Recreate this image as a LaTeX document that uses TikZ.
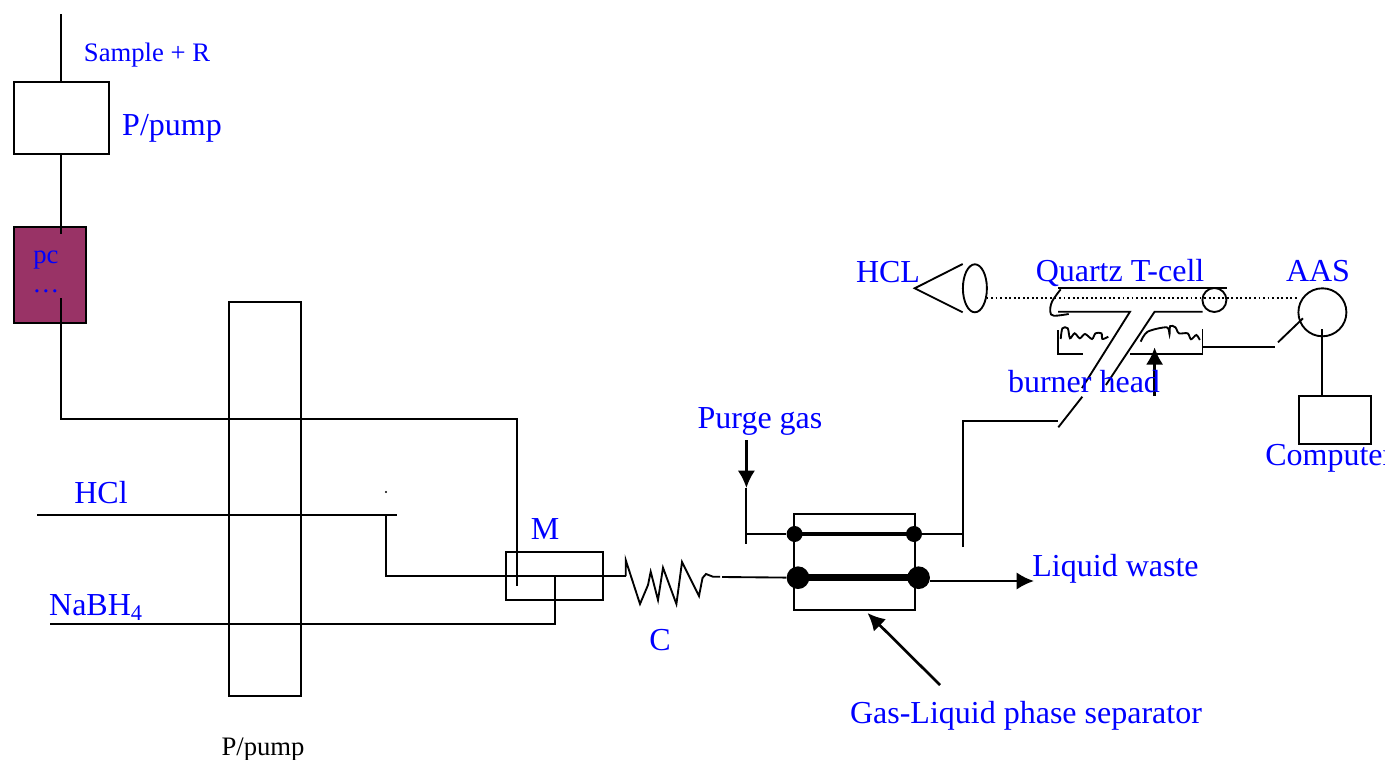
\documentclass[tikz,border=0pt]{standalone}
\usepackage{fontspec}
\setmainfont{Liberation Serif}
\usetikzlibrary{arrows.meta,calc,shapes.geometric}
\definecolor{pcfill}{HTML}{993366}
\tikzset{
    wire/.style={line width=1.4pt},
    heavy/.style={line width=2.8pt},
    heavier/.style={line width=5.2pt},
    pointer/.style={line width=2pt,-{Latex[length=13pt,width=13pt]}},
    unit/.style={draw,line width=1.4pt,inner sep=0pt},
    dot/.style={circle,fill=black,inner sep=0pt},
    lab/.style={text=blue,inner sep=0pt,font=\fontsize{24}{28}\selectfont},
    smalllab/.style={text=blue,inner sep=0pt,font=\fontsize{20}{24}\selectfont},
}
\begin{document}
\begin{tikzpicture}[x=0.75pt,y=-0.75pt]
\useasboundingbox (0,0) rectangle (1385,760);

% units
\node[unit,minimum width=71.25pt,minimum height=54pt] (pumpa) at (61.5,118) {};
\node[unit,fill=pcfill,minimum width=54pt,minimum height=72pt] (pc) at (50,275) {};
\node[unit,minimum width=54pt,minimum height=295.5pt] (pumpb) at (265,499) {};
\node[unit,minimum width=72.75pt,minimum height=36pt] (mixer) at (554.5,576) {};
\node[unit,minimum width=90.75pt,minimum height=72pt] (sep) at (854.5,562) {};
\node[unit,minimum width=54pt,minimum height=36pt] (computer) at (1334.8,420) {};
\node[draw,circle,line width=1.4pt,inner sep=0pt,minimum size=36pt] (aas) at (1322.4,312.3) {};
\node[draw,ellipse,line width=1.4pt,inner sep=0pt,minimum width=18pt,minimum height=36pt] (lamp) at (974.9,288.3) {};
\node[draw,circle,line width=1.4pt,inner sep=0pt,minimum size=18pt] (cellend) at (1214.4,300) {};

% sample line
\coordinate (sampletop) at (61,14);
\coordinate (pcin) at (61,234);
\coordinate (pcout) at (61,298);
\coordinate (bendA) at (61,419);
\coordinate (bendB) at (517,419);
\coordinate (mixA) at (517,586);
\draw[wire] (sampletop) -- (sampletop |- pumpa.north);
\draw[wire] (pcin |- pumpa.south) -- (pcin);
\draw[wire] (pcout) -- (bendA) -- (bendB) -- (mixA);

% reagent lines
\coordinate (hclA) at (37,515);
\coordinate (hclB) at (397,515);
\coordinate (hclC) at (386,515);
\coordinate (hclD) at (386,576);
\coordinate (coilA) at (625.7,576);
\coordinate (nabA) at (50,624);
\coordinate (nabB) at (555,624);
\coordinate (nabC) at (555,576);
\draw[wire] (hclA) -- (hclB);
\draw[wire] (hclC) -- (hclD) -- (coilA);
\draw[wire] (nabA) -- (nabB) -- (nabC);
\node[dot,minimum size=1.6pt] (speck) at (386,492) {};

% coil
\coordinate (coilB) at (720,576.7);
\draw[wire] (coilA) -- (625.7,560) -- (640,604) -- (648,585) -- (650.7,571.7) -- (658,600)
    -- (663,567.7) -- (676.4,604) -- (682,562) -- (699,596) -- (702.5,578) -- (706,574)
    -- (713,576.7) -- (coilB);

% separator
\node[dot,minimum size=12pt] (gasa) at (794.6,534) {};
\node[dot,minimum size=12pt] (gasb) at (914,534) {};
\node[dot,minimum size=17pt] (liqa) at (798,577.7) {};
\node[dot,minimum size=17pt] (liqb) at (918.6,577.7) {};
\coordinate (coilC) at (722,577);
\coordinate (gasL) at (746.4,534);
\coordinate (gasR) at (962.8,534);
\coordinate (gasLb) at (746.4,544);
\coordinate (gasRb) at (962.8,547);
\coordinate (gasRt) at (962.8,421);
\coordinate (purgetop) at (746.4,440);
\coordinate (purgetip) at (746.4,488);
\coordinate (stemfoot) at (1058.3,427.3);
\coordinate (stemknee) at (1058.3,421);
\coordinate (wastetip) at (1034,581);
\coordinate (sepfrom) at (940,685);
\coordinate (septip) at (867.5,613);
\draw[wire] (coilC) -- (liqa);
\draw[heavy] (gasa.center) -- (gasb.center);
\draw[heavier] (liqa.center) -- (liqb.center);
\draw[wire] (gasL) -- (gasa);
\draw[wire] (gasb) -- (gasR);
\draw[wire] (purgetip) -- (gasLb);
\draw[wire] (gasRb) -- (gasRt) -- (stemknee);
\draw[pointer] (purgetop) -- (purgetip);
\draw[pointer] (liqb.east |- wastetip) -- (wastetip);
\draw[pointer] (sepfrom) -- (septip);

% lamp
\coordinate (lampa) at (962.7,264);
\coordinate (lampb) at (914.7,288.3);
\coordinate (lampc) at (962.7,312.3);
\coordinate (beamA) at (986.5,298.3);
\coordinate (beamB) at (1298.8,298.3);
\draw[wire] (lampa) -- (lampb) -- (lampc);
\draw[line width=1.4pt,dotted] (beamA) -- (beamB);

% T cell
\coordinate (celltopA) at (1058,288.3);
\coordinate (celltopB) at (1226.9,288.3);
\coordinate (cellloA) at (1058,311.7);
\coordinate (cellloB) at (1130,311.7);
\coordinate (cellloC) at (1154.6,311.7);
\coordinate (cellloD) at (1202.5,311.7);
\coordinate (stemA) at (1082,388);
\coordinate (stemB) at (1082.3,396.7);
\coordinate (stemC) at (1105.9,385);
\draw[wire] (celltopA) -- (celltopB);
\draw[wire] (cellloA) -- (cellloB) -- (stemA);
\draw[wire] (stemB) -- (stemfoot);
\draw[wire] (cellloD) -- (cellloC) -- (stemC);
\draw[wire] plot[smooth,tension=.6] coordinates {(1060.7,289.3) (1052,301.7) (1050.3,311.7) (1053.8,315.7) (1068.7,314)};

% burner
\coordinate (burnA) at (1058.3,330);
\coordinate (burnB) at (1058.3,354);
\coordinate (burnC) at (1082.6,354);
\coordinate (burnD) at (1130.2,354);
\coordinate (burnE) at (1202.5,354);
\coordinate (burnF) at (1202.5,329.3);
\coordinate (burnG) at (1202.5,346.7);
\coordinate (burnH) at (1274.5,346.7);
\coordinate (aasA) at (1278,342.3);
\coordinate (aasB) at (1303,318.3);
\coordinate (airfrom) at (1154.6,396);
\coordinate (airtip) at (1154.6,347.3);
\draw[wire] (burnA) -- (burnB) -- (burnC);
\draw[wire] (burnD) -- (burnE) -- (burnF);
\draw[wire] (burnG) -- (burnH);
\draw[wire] (aasA) -- (aasB);
\draw[wire] plot[smooth,tension=.5] coordinates {(1060.7,339) (1062.4,328.3) (1067.7,328.3) (1070,338.3) (1074.6,333.3) (1079.8,338.3) (1085,334) (1092,339) (1095.5,333.3) (1101.4,333.3) (1102.4,339) (1108.3,336.7)};
\draw[wire] plot[smooth,tension=.5] coordinates {(1140.7,341.7) (1147.6,331.7) (1166.7,327.3) (1169.5,334.3) (1170.2,326) (1175.4,327.3) (1178.9,333.3) (1187.6,333.3) (1191,339.3) (1196.3,335) (1199.8,340)};
\draw[pointer] (airfrom) -- (airtip);
\draw[wire] (aas.center |- 0,329.3) -- (aas.center |- computer.north);

% labels
\node[smalllab] (samplelab) at (147,55) {Sample + R};
\node[lab] (pumpalab) at (172,128) {P/pump};
\node[smalllab] (pclab) at (46,260) {pc};
\node[smalllab] (dotslab) at (46,291) {…};
\node[lab] (mixerlab) at (545,529) {M};
\node[lab] (hcllab) at (101,493) {HCl};
\node[lab] (nablab) at (96,608) {NaBH\textsubscript{4}};
\node[lab] (coillab) at (660,640) {C};
\node[lab] (purgelab) at (760,421) {Purge gas};
\node[lab] (wastelab) at (1115.5,569) {Liquid waste};
\node[lab] (seplab) at (1026,716) {Gas-Liquid phase separator};
\node[smalllab,text=black] (pumpblab) at (263,750) {P/pump};
\node[lab] (lamplab) at (888,272) {HCL};
\node[lab] (celllab) at (1120,273) {Quartz T-cell};
\node[lab] (aaslab) at (1318,271) {AAS};
\node[lab] (burnerlab) at (1084,382) {burner head};
\node[lab,anchor=west] (computerlab) at (1265,458) {Computer};
\end{tikzpicture}
\end{document}
